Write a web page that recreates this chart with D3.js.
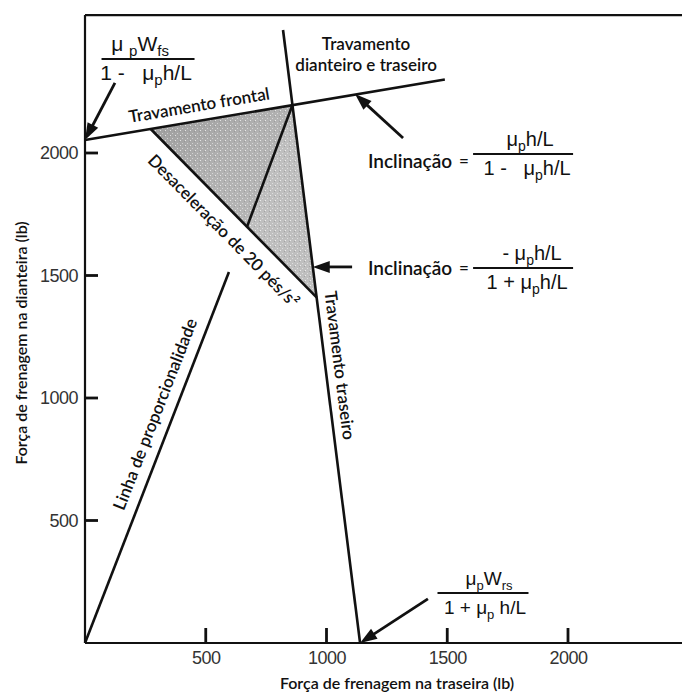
<!DOCTYPE html>
<html>
<head>
<meta charset="utf-8">
<script src="https://cdn.jsdelivr.net/npm/d3@7"></script>
<style>
    html, body { margin: 0; padding: 0; background: #fff; }
    svg { display: block; }
</style>
</head>
<body>
<svg id="chart" width="682" height="698"></svg>
<script>
// Axis ticks (lb)
const xTicks = [500, 1000, 1500, 2000];
const yTicks = [500, 1000, 1500, 2000];

// Extent of the drawn frame (lb)
const frameRight = 2472;
const frameTop = 2563;

// Lines as [rear force, front force] pairs (lb)
const frontLockLine = [[0, 2053], [1490, 2300]];
const rearLockLine = [[820, 2502], [1139, 0]];
const decelLine = [[272, 2098], [959, 1411]];
const splitLine = [[859, 2196], [671, 1699]];
const proportionLine = [[0, 0], [596, 1514]];

// Shaded regions
const frontRegion = [[272, 2098], [859, 2196], [671, 1699]];
const rearRegion = [[859, 2196], [959, 1411], [671, 1699]];

// Arrows: [tail, tip]
const arrows = [
    [[124, 2286], [0, 2053]],
    [[1317, 2061], [1118, 2241]],
    [[1106, 1535], [943, 1535]],
    [[1420, 180], [1139, 0]]
];

// Labels running along a line: text, line, position along it, side offset (px)
const lineLabels = [
    { text: 'Travamento frontal', line: frontLockLine, t: 0.324, offset: -16 },
    { text: 'Desaceleração de 20 pés/s²', line: decelLine, t: 0.523, offset: 19 },
    { text: 'Linha de proporcionalidade', line: proportionLine, t: 0.60, offset: -18 },
    { text: 'Travamento traseiro', line: rearLockLine, t: 0.55, offset: -15 }
];

// Free labels (data position of the text centre)
const freeLabels = [
    { text: 'Travamento', x: 1164, y: 2445 },
    { text: 'dianteiro e traseiro', x: 1164, y: 2363 },
    { text: 'Inclinação', x: 1346, y: 1971 },
    { text: '=', x: 1569, y: 1971 },
    { text: 'Inclinação', x: 1346, y: 1531 },
    { text: '=', x: 1569, y: 1531 }
];

// Fractions: centre of the bar, bar width, numerator / denominator pieces [text, subscript?]
const fractions = [
    { x: 261, y: 2384, w: 93, size: 21,
      num: [['μ ', 0], ['p', 1], ['W', 0], ['fs', 1]], numDx: -8,
      den: [['1 -   μ', 0], ['p', 1], ['h/L', 0]], denDx: -2 },
    { x: 1814, y: 1996, w: 100, size: 20,
      num: [['μ', 0], ['p', 1], ['h/L', 0]], numDx: 7,
      den: [['1 -   μ', 0], ['p', 1], ['h/L', 0]], denDx: 4 },
    { x: 1814, y: 1531, w: 100, size: 20,
      num: [['- μ', 0], ['p', 1], ['h/L', 0]], numDx: 9,
      den: [['1 + μ', 0], ['p', 1], ['h/L', 0]], denDx: 4 },
    { x: 1648, y: 204, w: 91, size: 19,
      num: [['μ', 0], ['p', 1], ['W', 0], ['rs', 1]], numDx: 6,
      den: [['1 + μ', 0], ['p', 1], [' h/L', 0]], denDx: 2 }
];

const xTitle = 'Força de frenagem na traseira (lb)';
const yTitle = 'Força de frenagem na dianteira (lb)';

(function() {
    'use strict';

    const CONFIG = {
        labelFont: 'Lato, "Open Sans", sans-serif',
        mathFont: '"Liberation Sans", Arial, sans-serif',
        ink: '#111',
        lineWidth: 2.6,
        tick: { x: 15, y: 13, width: 2.8 }
    };

    const svg = d3.select('#chart');
    const x = d3.scaleLinear().domain([0, 2000]).range([85, 568]);
    const y = d3.scaleLinear().domain([0, 2000]).range([643, 153]);
    const line = d3.line().x(d => x(d[0])).y(d => y(d[1]));

    // Fills
    const defs = svg.append('defs');
    const grad = defs.append('linearGradient')
        .attr('id', 'frontFill')
        .attr('x1', 0).attr('y1', 0).attr('x2', 1).attr('y2', 1);
    grad.append('stop').attr('offset', 0).attr('stop-color', '#9a9a9a');
    grad.append('stop').attr('offset', 0.5).attr('stop-color', '#b2b2b2');
    grad.append('stop').attr('offset', 1).attr('stop-color', '#b8b8b8');

    const speck = defs.append('pattern')
        .attr('id', 'speck')
        .attr('patternUnits', 'userSpaceOnUse')
        .attr('width', 5).attr('height', 5);
    speck.append('rect').attr('x', 0).attr('y', 0).attr('width', 1).attr('height', 1).attr('fill', '#fff').attr('opacity', 0.7);
    speck.append('rect').attr('x', 2).attr('y', 3).attr('width', 1).attr('height', 1).attr('fill', '#fff').attr('opacity', 0.5);
    speck.append('rect').attr('x', 4).attr('y', 1).attr('width', 1).attr('height', 1).attr('fill', '#888').attr('opacity', 0.5);

    svg.append('path').datum(frontRegion)
        .attr('d', d => line(d) + 'Z')
        .attr('fill', 'url(#frontFill)');
    svg.append('path').datum(rearRegion)
        .attr('d', d => line(d) + 'Z')
        .attr('fill', '#bfbfbf');
    svg.selectAll('path.speck')
        .data([frontRegion, rearRegion])
        .join('path')
        .attr('class', 'speck')
        .attr('d', d => line(d) + 'Z')
        .attr('fill', 'url(#speck)');

    // Frame
    const frame = svg.append('g')
        .attr('stroke', CONFIG.ink)
        .attr('stroke-width', 2.2);
    frame.append('line')
        .attr('x1', x(0)).attr('y1', y(0))
        .attr('x2', x(0)).attr('y2', y(frameTop));
    frame.append('line')
        .attr('x1', x(0)).attr('y1', y(frameTop))
        .attr('x2', x(frameRight)).attr('y2', y(frameTop));
    frame.append('line')
        .attr('x1', x(0)).attr('y1', y(0))
        .attr('x2', x(frameRight)).attr('y2', y(0));

    // Axis labels
    const xAxis = svg.append('g')
        .attr('transform', `translate(0,${y(0)})`)
        .call(d3.axisBottom(x).tickValues(xTicks).tickFormat(d3.format('d'))
            .tickSize(0).tickPadding(8));
    const yAxis = svg.append('g')
        .attr('transform', `translate(${x(0)},0)`)
        .call(d3.axisLeft(y).tickValues(yTicks).tickFormat(d3.format('d'))
            .tickSize(0).tickPadding(7));
    [xAxis, yAxis].forEach(a => {
        a.select('.domain').remove();
        a.selectAll('.tick line').remove();
        a.selectAll('.tick text')
            .attr('font-family', CONFIG.mathFont)
            .attr('font-size', 18)
            .attr('letter-spacing', -0.5)
            .attr('fill', '#333');
    });

    // Tick marks pointing into the plot
    const tw = CONFIG.tick.width;
    svg.append('g').attr('class', 'xticks')
        .selectAll('rect')
        .data(xTicks)
        .join('rect')
        .attr('x', d => x(d) - tw / 2)
        .attr('y', y(0) - CONFIG.tick.x)
        .attr('width', tw)
        .attr('height', CONFIG.tick.x)
        .attr('fill', CONFIG.ink);
    svg.append('g').attr('class', 'yticks')
        .selectAll('rect')
        .data(yTicks)
        .join('rect')
        .attr('x', x(0))
        .attr('y', d => y(d) - tw / 2)
        .attr('width', CONFIG.tick.y)
        .attr('height', tw)
        .attr('fill', CONFIG.ink);

    // Lines
    [frontLockLine, rearLockLine, decelLine, splitLine, proportionLine].forEach(pts => {
        svg.append('path').datum(pts)
            .attr('d', line)
            .attr('fill', 'none')
            .attr('stroke', CONFIG.ink)
            .attr('stroke-width', CONFIG.lineWidth);
    });

    // Arrows
    arrows.forEach(([tail, tip]) => {
        const x0 = x(tail[0]), y0 = y(tail[1]);
        const x1 = x(tip[0]), y1 = y(tip[1]);
        const len = Math.hypot(x1 - x0, y1 - y0);
        const ux = (x1 - x0) / len, uy = (y1 - y0) / len;
        const hl = 17, hw = 6;
        const bx = x1 - ux * hl, by = y1 - uy * hl;
        svg.append('line')
            .attr('x1', x0).attr('y1', y0)
            .attr('x2', bx + ux * 2).attr('y2', by + uy * 2)
            .attr('stroke', CONFIG.ink)
            .attr('stroke-width', 2.8);
        svg.append('path')
            .attr('d', `M${x1},${y1}L${bx - uy * hw},${by + ux * hw}L${bx + uy * hw},${by - ux * hw}Z`)
            .attr('fill', CONFIG.ink);
    });

    // Labels along lines
    lineLabels.forEach(l => {
        const p0 = [x(l.line[0][0]), y(l.line[0][1])];
        const p1 = [x(l.line[1][0]), y(l.line[1][1])];
        const len = Math.hypot(p1[0] - p0[0], p1[1] - p0[1]);
        const ux = (p1[0] - p0[0]) / len, uy = (p1[1] - p0[1]) / len;
        const cx = p0[0] + ux * len * l.t - uy * l.offset;
        const cy = p0[1] + uy * len * l.t + ux * l.offset;
        const angle = Math.atan2(uy, ux) * 180 / Math.PI;
        svg.append('text')
            .attr('transform', `translate(${cx},${cy}) rotate(${angle})`)
            .attr('text-anchor', 'middle')
            .attr('dominant-baseline', 'central')
            .attr('font-family', CONFIG.labelFont)
            .attr('font-weight', 600)
            .attr('font-size', 17)
            .attr('fill', CONFIG.ink)
            .text(l.text);
    });

    // Free labels
    svg.selectAll('text.free')
        .data(freeLabels)
        .join('text')
        .attr('class', 'free')
        .attr('x', d => x(d.x))
        .attr('y', d => y(d.y))
        .attr('text-anchor', 'middle')
        .attr('dominant-baseline', 'central')
        .attr('font-family', CONFIG.labelFont)
        .attr('font-weight', 600)
        .attr('font-size', d => d.text === 'Inclinação' ? 19 : 17)
        .attr('fill', CONFIG.ink)
        .text(d => d.text);

    // Fractions
    function writePieces(sel, pieces, size) {
        let shifted = false;
        pieces.forEach(([txt, sub]) => {
            const ts = sel.append('tspan').text(txt);
            if (sub) {
                ts.attr('font-size', Math.round(size * 0.7));
                if (!shifted) { ts.attr('dy', 5); shifted = true; }
            } else if (shifted) {
                ts.attr('dy', -5);
                shifted = false;
            }
        });
    }

    fractions.forEach(f => {
        const cx = x(f.x), cy = y(f.y);
        const g = svg.append('g')
            .attr('font-family', CONFIG.mathFont)
            .attr('fill', CONFIG.ink)
            .attr('font-size', f.size)
            .attr('text-anchor', 'middle');
        g.append('line')
            .attr('x1', cx - f.w / 2).attr('x2', cx + f.w / 2)
            .attr('y1', cy).attr('y2', cy)
            .attr('stroke', CONFIG.ink)
            .attr('stroke-width', 2);
        const num = g.append('text')
            .attr('x', cx + f.numDx)
            .attr('y', cy - 8)
            .style('white-space', 'pre');
        writePieces(num, f.num, f.size);
        const den = g.append('text')
            .attr('x', cx + f.denDx)
            .attr('y', cy + 21)
            .style('white-space', 'pre');
        writePieces(den, f.den, f.size);
    });

    // Axis titles
    svg.append('text')
        .attr('x', 397).attr('y', 689)
        .attr('text-anchor', 'middle')
        .attr('font-family', CONFIG.labelFont)
        .attr('font-weight', 600)
        .attr('font-size', 16)
        .attr('fill', CONFIG.ink)
        .text(xTitle);
    svg.append('text')
        .attr('transform', 'translate(27,343) rotate(-90)')
        .attr('text-anchor', 'middle')
        .attr('font-family', CONFIG.labelFont)
        .attr('font-weight', 600)
        .attr('font-size', 16)
        .attr('fill', CONFIG.ink)
        .text(yTitle);
})();
</script>
</body>
</html>
